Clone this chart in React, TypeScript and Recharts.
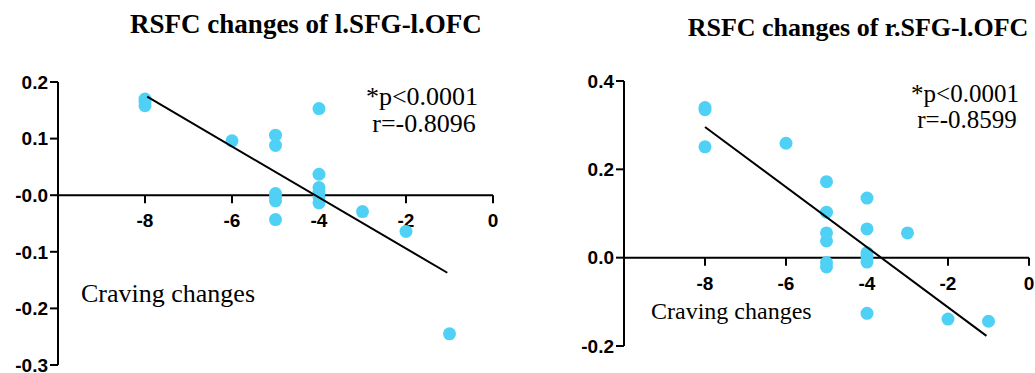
import React from 'react';
import {
  ScatterChart,
  Scatter,
  XAxis,
  YAxis,
  ReferenceLine,
  ReferenceDot,
} from 'recharts';

// craving changes (x) vs RSFC changes (y)
const leftX = [-8, -8, -8, -6, -5, -5, -5, -5, -5, -5, -4, -4, -4, -4, -4, -4, -3, -2, -1];
const leftY = [0.17, 0.165, 0.158, 0.096, 0.106, 0.088, 0.003, -0.003, -0.01, -0.043, 0.153, 0.037, 0.0135, 0.006, -0.003, -0.0135, -0.029, -0.064, -0.245];

const rightX = [-8, -8, -8, -6, -5, -5, -5, -5, -5, -5, -4, -4, -4, -4, -4, -4, -3, -2, -1];
const rightY = [0.34, 0.335, 0.251, 0.259, 0.172, 0.103, 0.056, 0.038, -0.011, -0.021, 0.135, 0.065, 0.011, 0.002, -0.01, -0.126, 0.056, -0.139, -0.144];

// regression line ends
const leftFitX = [-7.95, -1.05];
const leftFitY = [0.174, -0.137];
const rightFitX = [-8, -1.05];
const rightFitY = [0.296, -0.177];

const xTicks = [-8, -6, -4, -2, 0];
const leftYTicks = [-0.3, -0.2, -0.1, 0, 0.1, 0.2];
const rightYTicks = [-0.2, 0, 0.2, 0.4];

const DOT = '#4fd1f6';
const SANS = '"Liberation Sans", Arial, sans-serif';
const SERIF = '"Liberation Serif", "Times New Roman", serif';

const zip = (xs: number[], ys: number[]) => xs.map((x, i) => ({ x, y: ys[i] }));

function XTick(props: any) {
  const { cx, cy, label } = props;
  return (
    <g>
      <line x1={cx} y1={cy} x2={cx} y2={cy + 8} stroke="#000" strokeWidth={2} />
      <text x={cx} y={cy + 32} textAnchor="middle" fontFamily={SANS} fontWeight="bold" fontSize={19} fill="#000">
        {label}
      </text>
    </g>
  );
}

function Dot(props: any) {
  return <circle cx={props.cx} cy={props.cy} r={6.5} fill={DOT} />;
}

interface PanelProps {
  left: number;
  width: number;
  axisW: number;
  margin: { top: number; right: number; bottom: number; left: number };
  xs: number[];
  ys: number[];
  fitX: number[];
  fitY: number[];
  yDomain: [number, number];
  yTicks: number[];
  zeroLabel: string;
}

function Panel(p: PanelProps) {
  const points = zip(p.xs, p.ys);
  const fit = zip(p.fitX, p.fitY);
  return (
    <div style={{ position: 'absolute', left: p.left, top: 0 }}>
      <ScatterChart width={p.width} height={373} margin={p.margin}>
        <XAxis type="number" dataKey="x" domain={[-10, 0]} hide />
        <YAxis
          type="number"
          dataKey="y"
          domain={p.yDomain}
          ticks={p.yTicks}
          width={p.axisW}
          interval={0}
          tickSize={8}
          tickMargin={2}
          axisLine={{ stroke: '#000', strokeWidth: 2 }}
          tickLine={{ stroke: '#000', strokeWidth: 2 }}
          tick={{ fill: '#000', fontSize: 19, fontWeight: 'bold', fontFamily: SANS }}
          tickFormatter={(v: number) => (v === 0 ? p.zeroLabel : v.toFixed(1))}
        />
        <ReferenceLine y={0} stroke="#000" strokeWidth={2} />
        {xTicks.map((t) => (
          <ReferenceDot key={t} x={t} y={0} r={0} shape={(s: any) => <XTick {...s} label={String(t)} />} />
        ))}
        <Scatter data={points} shape={<Dot />} isAnimationActive={false} />
        <Scatter
          data={fit}
          line={{ stroke: '#000', strokeWidth: 2 }}
          lineType="joint"
          shape={() => <g />}
          isAnimationActive={false}
        />
      </ScatterChart>
    </div>
  );
}

export default function App() {
  return (
    <div style={{ position: 'absolute', left: 0, top: 0, width: 1035, height: 373, background: '#fff', overflow: 'hidden' }}>
      <Panel
        left={0}
        width={520}
        axisW={58}
        margin={{ top: 82, right: 27, bottom: 8, left: 0 }}
        xs={leftX}
        ys={leftY}
        fitX={leftFitX}
        fitY={leftFitY}
        yDomain={[-0.3, 0.2]}
        yTicks={leftYTicks}
        zeroLabel="-0.0"
      />
      <Panel
        left={560}
        width={475}
        axisW={64}
        margin={{ top: 81, right: 6, bottom: 27, left: 0 }}
        xs={rightX}
        ys={rightY}
        fitX={rightFitX}
        fitY={rightFitY}
        yDomain={[-0.2, 0.4]}
        yTicks={rightYTicks}
        zeroLabel="0.0"
      />
      <svg width={1035} height={373} style={{ position: 'absolute', left: 0, top: 0, pointerEvents: 'none' }}>
        <text x={306} y={33} textAnchor="middle" fontFamily={SERIF} fontWeight="bold" fontSize={27} fill="#000">
          RSFC changes of l.SFG-l.OFC
        </text>
        <text x={858} y={36} textAnchor="middle" fontFamily={SERIF} fontWeight="bold" fontSize={26} fill="#000">
          RSFC changes of r.SFG-l.OFC
        </text>
        <text x={422} y={105} textAnchor="middle" fontFamily={SERIF} fontSize={26} fill="#000">*p&lt;0.0001</text>
        <text x={424} y={132} textAnchor="middle" fontFamily={SERIF} fontSize={26} fill="#000">r=-0.8096</text>
        <text x={965} y={102} textAnchor="middle" fontFamily={SERIF} fontSize={25} fill="#000">*p&lt;0.0001</text>
        <text x={967} y={128} textAnchor="middle" fontFamily={SERIF} fontSize={25} fill="#000">r=-0.8599</text>
        <text x={81} y={302} fontFamily={SERIF} fontSize={26} fill="#000">Craving changes</text>
        <text x={651} y={319} fontFamily={SERIF} fontSize={24} fill="#000">Craving changes</text>
      </svg>
    </div>
  );
}
